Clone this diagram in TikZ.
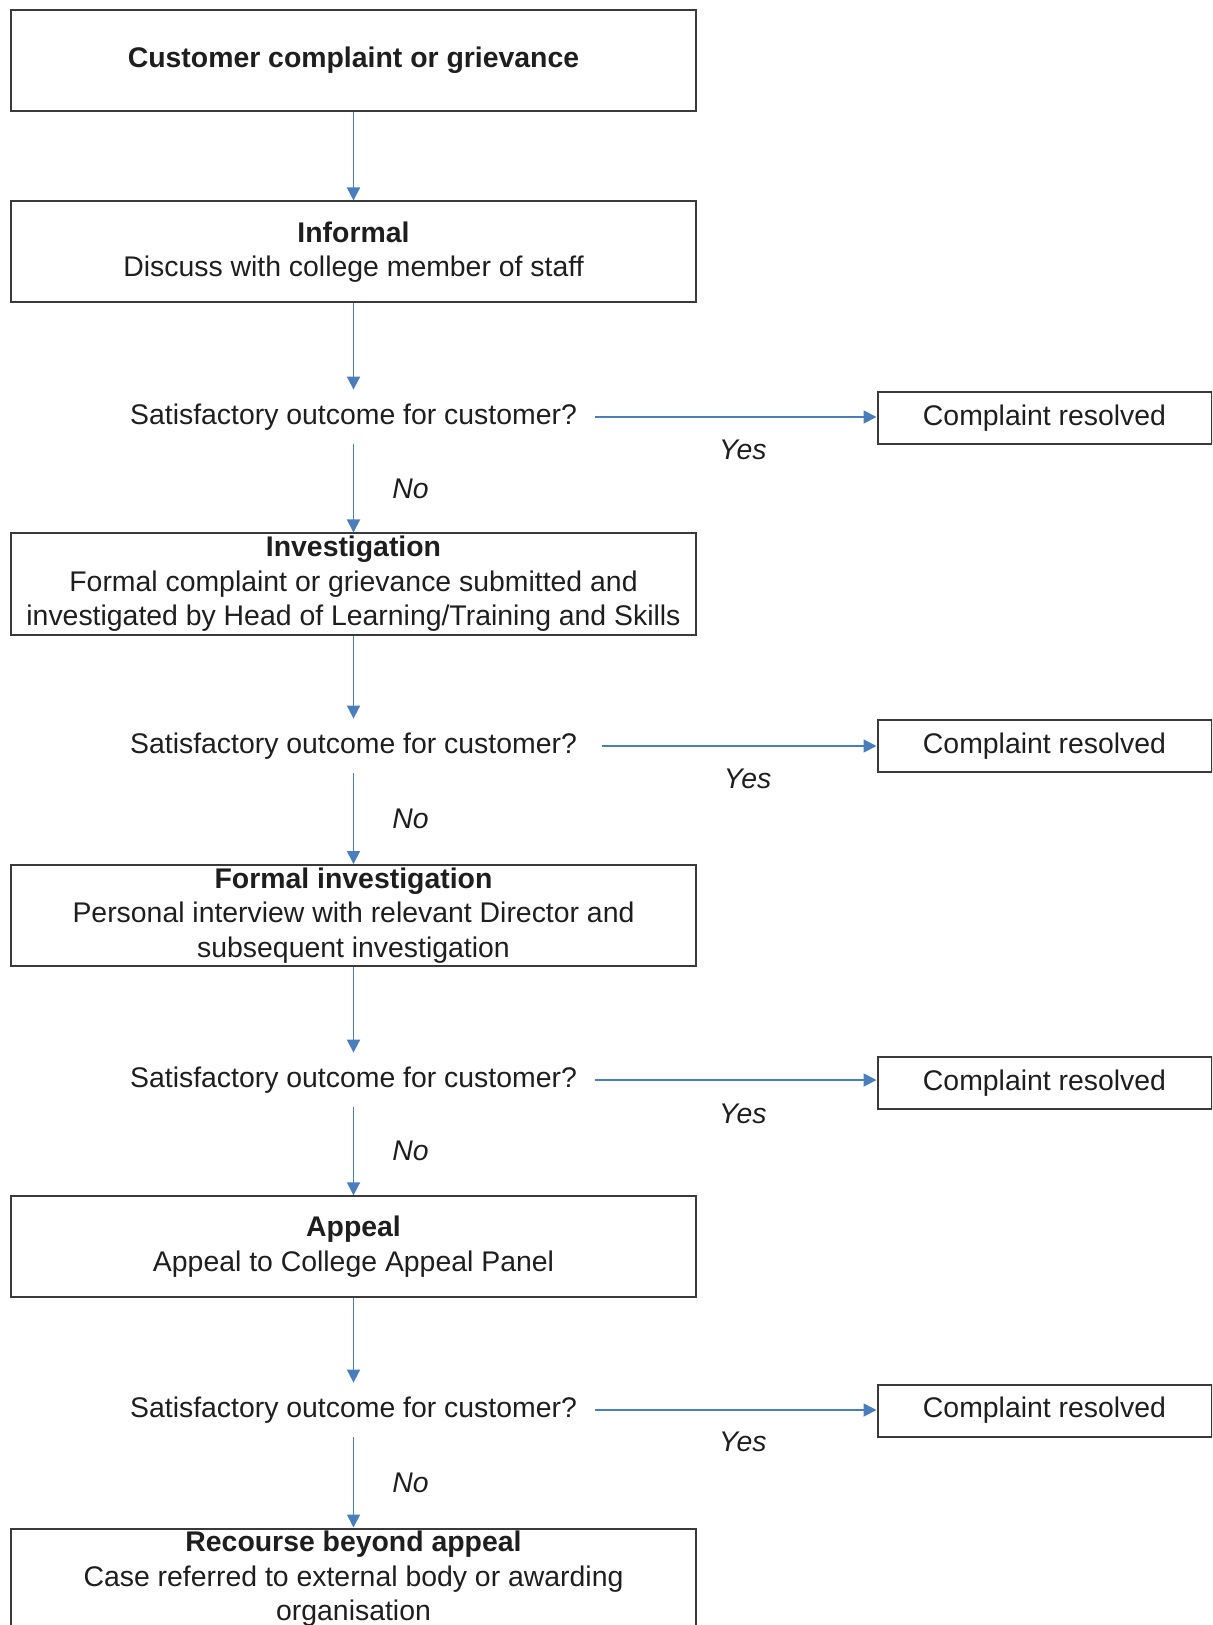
\documentclass[tikz,border=0pt]{standalone}
\usepackage{fontspec}
\setmainfont{Liberation Sans}
\usetikzlibrary{arrows.meta}
\definecolor{flowblue}{HTML}{4A7EBB}
\definecolor{boxline}{HTML}{3A3A3A}
\definecolor{txt}{HTML}{1E1E1E}
\tikzset{
  mainbox/.style={draw=boxline, line width=1pt, minimum width=342.15pt, minimum height=50.5pt,
    inner sep=0pt, align=center, text=txt, font=\fontsize{14.2pt}{17.25pt}\selectfont},
  decision/.style={minimum height=27pt, inner xsep=9pt, inner ysep=0pt, text=txt,
    font=\fontsize{14.2pt}{17.25pt}\selectfont},
  resbox/.style={draw=boxline, line width=1pt, minimum width=167pt, minimum height=26pt,
    inner sep=0pt, text=txt, font=\fontsize{14.2pt}{17.25pt}\selectfont},
  flow/.style={draw=flowblue, line width=0.9pt, -{Triangle[width=6.5pt,length=6.5pt]}},
  lab/.style={text=txt, font=\fontsize{14.2pt}{17.25pt}\selectfont\itshape},
}
\begin{document}
\begin{tikzpicture}[x=0.5pt,y=-0.5pt]
\useasboundingbox (0,0) rectangle (1212,1625);
\clip (0,0) rectangle (1212,1625);
% main boxes
\node[mainbox] (b1) at (353.5,60.2) {\textbf{Customer complaint or grievance}};
\node[mainbox] (b2) at (353.5,252) {\textbf{Informal}\\Discuss with college member of staff};
\node[mainbox] (b3) at (353.5,584) {\textbf{Investigation}\\Formal complaint or grievance submitted and\\investigated by Head of Learning/Training and Skills};
\node[mainbox] (b4) at (353.5,915.5) {\textbf{Formal investigation}\\Personal interview with relevant Director and\\subsequent investigation};
\node[mainbox] (b5) at (353.5,1246.8) {\textbf{Appeal}\\Appeal to College Appeal Panel};
\node[mainbox] (b6) at (353.5,1579) {\textbf{Recourse beyond appeal}\\Case referred to external body or awarding\\organisation};
% decisions
\node[decision] (d1) at (353.5,417) {Satisfactory outcome for customer?};
\node[decision] (d2) at (353.5,746) {Satisfactory outcome for customer?};
\node[decision] (d3) at (353.5,1080) {Satisfactory outcome for customer?};
\node[decision] (d4) at (353.5,1410) {Satisfactory outcome for customer?};
% resolved boxes
\node[resbox] (r1) at (1044.5,418) {Complaint resolved};
\node[resbox] (r2) at (1044.5,746) {Complaint resolved};
\node[resbox] (r3) at (1044.5,1083) {Complaint resolved};
\node[resbox] (r4) at (1044.5,1410.5) {Complaint resolved};
% vertical flow
\draw[flow] (b1.south) -- (b2.north);
\draw[flow] (b2.south) -- (d1.north);
\draw[flow] (d1.south) -- node[lab, pos=0.5, xshift=28.5pt] (n1) {No} (b3.north);
\draw[flow] (b3.south) -- (d2.north);
\draw[flow] (d2.south) -- node[lab, pos=0.5, xshift=28.5pt] (n2) {No} (b4.north);
\draw[flow] (b4.south) -- (d3.north);
\draw[flow] (d3.south) -- node[lab, pos=0.5, xshift=28.5pt] (n3) {No} (b5.north);
\draw[flow] (b5.south) -- (d4.north);
\draw[flow] (d4.south) -- node[lab, pos=0.5, xshift=28.5pt] (n4) {No} (b6.north);
% yes flows
\draw[flow] (d1.east) -- node[lab, pos=0.525, yshift=-16.5pt] (y1) {Yes} (d1.east -| r1.west);
\draw[flow] ([xshift=3.5pt]d2.east) -- node[lab, pos=0.53, yshift=-16.5pt] (y2) {Yes} (d2.east -| r2.west);
\draw[flow] (d3.east) -- node[lab, pos=0.525, yshift=-17pt] (y3) {Yes} (d3.east -| r3.west);
\draw[flow] (d4.east) -- node[lab, pos=0.525, yshift=-16pt] (y4) {Yes} (d4.east -| r4.west);
\end{tikzpicture}
\end{document}
